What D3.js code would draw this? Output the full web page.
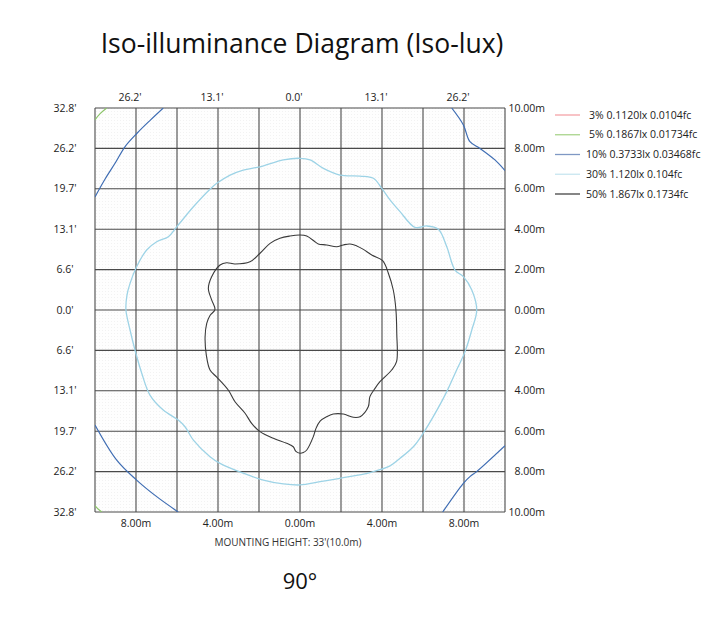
<!DOCTYPE html>
<html>
<head>
<meta charset="utf-8">
<script src="https://cdn.jsdelivr.net/npm/d3@7"></script>
<style>
  html, body { margin: 0; padding: 0; background: #fff; }
  svg { display: block; }
  text { font-family: "Open Sans", "DejaVu Sans", sans-serif; fill: #222; }
</style>
</head>
<body>
<svg id="chart" width="728" height="618"></svg>
<script>
// ---------- data (metres, x to the right, y upward) ----------
const gridTicks = [-10, -8, -6, -4, -2, 0, 2, 4, 6, 8, 10];
const xLabelTicks = [-8, -4, 0, 4, 8];
const bottomLabels = ["8.00m", "4.00m", "0.00m", "4.00m", "8.00m"];
const topLabels = ["26.2'", "13.1'", "0.0'", "13.1'", "26.2'"];
const yTicks = [10, 8, 6, 4, 2, 0, -2, -4, -6, -8, -10];
const leftLabels = ["32.8'", "26.2'", "19.7'", "13.1'", "6.6'", "0.0'", "6.6'", "13.1'", "19.7'", "26.2'", "32.8'"];
const rightLabels = ["10.00m", "8.00m", "6.00m", "4.00m", "2.00m", "0.00m", "2.00m", "4.00m", "6.00m", "8.00m", "10.00m"];

const legendLabels = ["3% 0.1120lx 0.0104fc", "5% 0.1867lx 0.01734fc", "10% 0.3733lx 0.03468fc", "30% 1.120lx 0.104fc", "50% 1.867lx 0.1734fc"];
const legendColors = ["#f4a3a8", "#a9d48c", "#7f98c4", "#c8e6f0", "#444444"];

// 5% contour pieces (corners)
const c5_topLeft = [[-10, 9.41], [-9.75, 9.72], [-9.43, 10]];
const c5_botLeft = [[-10, -9.69], [-9.85, -9.85], [-9.67, -10]];

// 10% contour pieces (corners)
const c10_topLeft = [[-10, 5.6], [-9.5, 6.5], [-9.0, 7.3], [-8.54, 8.08], [-7.95, 8.75], [-7.3, 9.4], [-6.67, 10]];
const c10_topRight = [[7.4, 10], [7.97, 9.16], [8.29, 8.33], [8.78, 8.0], [9.51, 7.43], [10, 6.9]];
const c10_botLeft = [[-10, -5.69], [-8.94, -7.43], [-7.97, -8.42], [-6.99, -9.24], [-5.94, -10]];
const c10_botRight = [[10, -6.72], [8.62, -8.0], [8.29, -8.25], [7.97, -8.58], [6.96, -10]];

// 30% contour (closed)
const c30 = [
  [0, 7.51], [0.49, 7.43], [1.14, 7.01], [1.95, 6.68], [2.93, 6.63], [3.58, 6.52], [3.99, 6.02],
  [4.39, 5.45], [4.88, 4.87], [5.61, 4.09], [6.18, 4.16], [6.75, 4.0], [7.16, 3.13], [7.56, 1.98],
  [7.97, 1.65], [8.38, 0.99], [8.62, 0], [8.38, -0.99], [8.05, -2.06], [7.64, -2.97], [7.16, -4.04],
  [6.50, -5.28], [6.01, -6.10], [5.53, -6.77], [4.88, -7.34], [4.39, -7.72], [3.41, -8.05],
  [1.95, -8.33], [0.98, -8.50], [0, -8.66], [-0.81, -8.61], [-1.79, -8.42], [-2.77, -8.08],
  [-3.90, -7.59], [-4.39, -7.26], [-5.20, -6.44], [-5.61, -5.78], [-5.94, -5.45], [-6.67, -4.95],
  [-7.32, -4.21], [-7.72, -3.13], [-8.05, -1.98], [-8.29, -0.99], [-8.49, 0], [-8.44, 0.74],
  [-8.29, 1.32], [-7.97, 2.14], [-7.48, 2.97], [-6.99, 3.38], [-6.42, 3.63], [-6.01, 4.12],
  [-5.20, 5.11], [-4.39, 5.98], [-4.06, 6.27], [-3.41, 6.68], [-2.77, 6.93], [-1.95, 7.09], [-0.81, 7.43]
];

// 50% contour (closed)
const c50 = [
  [0, 3.71], [0.33, 3.66], [0.73, 3.38], [0.89, 3.27], [1.30, 3.22], [1.79, 3.13], [2.11, 3.22],
  [2.44, 3.27], [2.77, 3.17], [3.09, 3.00], [3.50, 2.72], [4.03, 2.44], [4.31, 1.82], [4.55, 0.99],
  [4.68, 0], [4.72, -1.15], [4.71, -2.56], [4.47, -2.97], [3.90, -3.55], [3.66, -3.88], [3.41, -4.29],
  [3.33, -4.79], [2.93, -5.28], [2.60, -5.31], [2.11, -5.15], [1.62, -5.15], [1.30, -5.28],
  [0.98, -5.50], [0.78, -5.86], [0.65, -6.27], [0.33, -6.93], [0.16, -7.06], [0, -7.09],
  [-0.20, -7.00], [-0.33, -6.77], [-0.65, -6.60], [-1.30, -6.35], [-1.95, -6.02], [-2.36, -5.61],
  [-2.68, -5.11], [-3.17, -4.54], [-3.50, -3.96], [-4.06, -3.32], [-4.39, -2.97], [-4.57, -2.23],
  [-4.63, -1.34], [-4.55, -0.66], [-4.39, -0.27], [-4.15, 0.02], [-4.31, 0.50], [-4.47, 1.07],
  [-4.31, 1.65], [-3.90, 2.23], [-3.58, 2.34], [-3.17, 2.28], [-2.44, 2.39], [-1.95, 2.81],
  [-1.46, 3.30], [-0.98, 3.55], [-0.49, 3.66]
];

// ---------- drawing ----------
const svg = d3.select("#chart");
const plot = { left: 95, right: 505, top: 108, bottom: 512 };
const x = d3.scaleLinear().domain([-10, 10]).range([plot.left, plot.right]);
const y = d3.scaleLinear().domain([-10, 10]).range([plot.bottom, plot.top]);

// title
svg.append("text")
  .attr("x", 302).attr("y", 53)
  .attr("text-anchor", "middle")
  .style("font-size", "26.5px")
  .style("font-weight", "500")
  .style("fill", "#111")
  .text("Iso-illuminance Diagram (Iso-lux)");

// background with faint dots
const defs = svg.append("defs");
const pat = defs.append("pattern").attr("id", "dots")
  .attr("width", 3).attr("height", 3).attr("patternUnits", "userSpaceOnUse");
pat.append("rect").attr("width", 3).attr("height", 3).attr("fill", "#fefefe");
pat.append("rect").attr("width", 1).attr("height", 1).attr("fill", "#f2f2f2");
defs.append("clipPath").attr("id", "clip")
  .append("rect")
  .attr("x", plot.left).attr("y", plot.top)
  .attr("width", plot.right - plot.left).attr("height", plot.bottom - plot.top);

svg.append("rect")
  .attr("x", plot.left).attr("y", plot.top)
  .attr("width", plot.right - plot.left).attr("height", plot.bottom - plot.top)
  .attr("fill", "url(#dots)");

// grid
const grid = svg.append("g").attr("stroke", "#4a4a4a").attr("stroke-width", 1.1);
grid.selectAll("line.v").data(gridTicks).join("line")
  .attr("x1", d => x(d)).attr("x2", d => x(d))
  .attr("y1", plot.top).attr("y2", plot.bottom);
grid.selectAll("line.h").data(yTicks).join("line")
  .attr("y1", d => y(d)).attr("y2", d => y(d))
  .attr("x1", plot.left).attr("x2", plot.right);

// axis labels
const lab = svg.append("g").style("font-size", "10.5px");
lab.selectAll("text.b").data(xLabelTicks).join("text")
  .attr("x", d => x(d)).attr("y", 527).attr("text-anchor", "middle")
  .text((d, i) => bottomLabels[i]);
lab.selectAll("text.t").data(xLabelTicks).join("text")
  .attr("x", d => x(d) - 6).attr("y", 101).attr("text-anchor", "middle")
  .text((d, i) => topLabels[i]);
lab.selectAll("text.l").data(yTicks).join("text")
  .attr("x", 65).attr("y", d => y(d)).attr("dy", "0.35em").attr("text-anchor", "middle")
  .text((d, i) => leftLabels[i]);
lab.selectAll("text.r").data(yTicks).join("text")
  .attr("x", 545).attr("y", d => y(d)).attr("dy", "0.35em").attr("text-anchor", "end")
  .text((d, i) => rightLabels[i]);

// contours
const lineOpen = d3.line().x(d => x(d[0])).y(d => y(d[1])).curve(d3.curveCatmullRom.alpha(0.5));
const lineClosed = d3.line().x(d => x(d[0])).y(d => y(d[1])).curve(d3.curveCatmullRomClosed.alpha(0.5));
const cg = svg.append("g").attr("clip-path", "url(#clip)").attr("fill", "none");

[c5_topLeft, c5_botLeft].forEach(p => cg.append("path").attr("d", lineOpen(p))
  .attr("stroke", "#8cc46a").attr("stroke-width", 1.2));
[c10_topLeft, c10_topRight, c10_botLeft, c10_botRight].forEach(p => cg.append("path").attr("d", lineOpen(p))
  .attr("stroke", "#3f6db3").attr("stroke-width", 1.2));
cg.append("path").attr("d", lineClosed(c30)).attr("stroke", "#9dd3e6").attr("stroke-width", 1.3);
cg.append("path").attr("d", lineClosed(c50)).attr("stroke", "#3a3a3a").attr("stroke-width", 1.1);

// legend
const lg = svg.append("g");
const legendY = d3.scalePoint().domain(legendLabels).range([115, 194]);
lg.selectAll("line").data(legendLabels).join("line")
  .attr("x1", 555).attr("x2", 580)
  .attr("y1", d => legendY(d)).attr("y2", d => legendY(d))
  .attr("stroke", (d, i) => legendColors[i]).attr("stroke-width", 1.3);
lg.selectAll("text").data(legendLabels).join("text")
  .attr("x", (d, i) => i < 2 ? 589 : 586).attr("y", d => legendY(d)).attr("dy", "0.35em")
  .style("font-size", "10.5px")
  .text(d => d);

// footer texts
svg.append("text").attr("x", 288).attr("y", 546).attr("text-anchor", "middle")
  .style("font-size", "10px").style("fill", "#333")
  .text("MOUNTING HEIGHT: 33'(10.0m)");
svg.append("text").attr("x", 300).attr("y", 589).attr("text-anchor", "middle")
  .style("font-size", "22px").style("fill", "#111")
  .text("90°");
</script>
</body>
</html>
